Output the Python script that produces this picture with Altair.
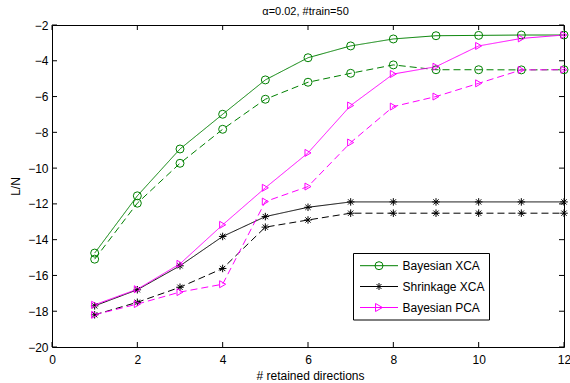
import altair as alt
import pandas as pd

x_vals = [1, 2, 3, 4, 5, 6, 7, 8, 9, 10, 11, 12]
series_names = ["Bayesian XCA", "Shrinkage XCA", "Bayesian PCA"]
bxca_solid = [-14.75, -11.55, -8.93, -6.99, -5.07, -3.83, -3.17, -2.78, -2.60, -2.58, -2.56, -2.56]
bxca_dashed = [-15.09, -11.96, -9.73, -7.83, -6.15, -5.20, -4.70, -4.23, -4.50, -4.50, -4.51, -4.50]
sxca_solid = [-17.70, -16.80, -15.46, -13.82, -12.71, -12.19, -11.89, -11.89, -11.89, -11.89, -11.89, -11.89]
sxca_dashed = [-18.20, -17.50, -16.66, -15.61, -13.30, -12.90, -12.52, -12.52, -12.52, -12.52, -12.52, -12.52]
bpca_solid = [-17.64, -16.77, -15.35, -13.17, -11.10, -9.15, -6.50, -4.74, -4.33, -3.17, -2.75, -2.56]
bpca_dashed = [-18.20, -17.60, -16.93, -16.49, -11.87, -11.03, -8.57, -6.56, -6.00, -5.26, -4.51, -4.50]
x_ticks = [0, 2, 4, 6, 8, 10, 12]
y_ticks = [-20, -18, -16, -14, -12, -10, -8, -6, -4, -2]
title_text = "\u03b1=0.02, #train=50"

rows = []
for name, solid, dashed in [
    ("Bayesian XCA", bxca_solid, bxca_dashed),
    ("Shrinkage XCA", sxca_solid, sxca_dashed),
    ("Bayesian PCA", bpca_solid, bpca_dashed),
]:
    for xv, yv in zip(x_vals, solid):
        rows.append({"series": name, "style": "solid", "x": xv, "y": yv, "key": name + " solid"})
    for xv, yv in zip(x_vals, dashed):
        rows.append({"series": name, "style": "dashed", "x": xv, "y": yv, "key": name + " dashed"})
df = pd.DataFrame(rows)

W, H = 512, 322
FONT = "Liberation Sans"
colors = ["#008000", "#000000", "#ff00ff"]
star = "M-1,0L1,0M0,-1L0,1M-0.7,-0.7L0.7,0.7M-0.7,0.7L0.7,-0.7"
shapes = ["circle", star, "triangle-right"]
sizes = [64, 49, 64]

xscale = alt.Scale(domain=[0, 12], nice=False)
yscale = alt.Scale(domain=[-20, -2], nice=False, zero=False)
color_enc = alt.Color("series:N", scale=alt.Scale(domain=series_names, range=colors), legend=None)

xaxis = alt.Axis(values=x_ticks, grid=False, ticks=False, tickSize=0, domain=False,
                 labelFont=FONT, labelFontSize=12, labelColor="black", labelPadding=7,
                 labelOverlap=False, labelFlush=False,
                 title="# retained directions", titleFont=FONT, titleFontSize=12,
                 titleFontWeight="normal", titleColor="black", titleX=258, titleY=32,
                 titleBaseline="alphabetic", titleAlign="center")
yaxis = alt.Axis(values=y_ticks, grid=False, ticks=False, tickSize=0, domain=False,
                 labelFont=FONT, labelFontSize=12, labelColor="black", labelPadding=4,
                 labelOverlap=False, labelFlush=False,
                 title="L/N", titleFont=FONT, titleFontSize=12, titleFontWeight="normal",
                 titleColor="black", titleAngle=270, titleX=-33, titleY=161,
                 titleBaseline="alphabetic", titleAlign="center")


def X(field):
    return alt.X(field, scale=xscale, axis=xaxis, title="# retained directions")


def Y(field):
    return alt.Y(field, scale=yscale, axis=yaxis, title="L/N")


base = alt.Chart(df)
lines = base.mark_line(strokeWidth=1).encode(
    x=X("x:Q"),
    y=Y("y:Q"),
    color=color_enc,
    strokeDash=alt.StrokeDash("style:N", scale=alt.Scale(domain=["solid", "dashed"], range=[[1, 0], [7, 4]]), legend=None),
    detail="key:N",
)
points = base.mark_point(filled=False, strokeWidth=1, opacity=1).encode(
    x=X("x:Q"),
    y=Y("y:Q"),
    color=color_enc,
    shape=alt.Shape("series:N", scale=alt.Scale(domain=series_names, range=shapes), legend=None),
    size=alt.Size("series:N", scale=alt.Scale(domain=series_names, range=sizes), legend=None),
)

xt = pd.DataFrame({"x": x_ticks})
yt = pd.DataFrame({"y": y_ticks})
tick_layers = [
    alt.Chart(xt).mark_rule(color="black", strokeWidth=1).encode(x=X("x:Q"), y=alt.value(H), y2=alt.value(H - 5)),
    alt.Chart(xt).mark_rule(color="black", strokeWidth=1).encode(x=X("x:Q"), y=alt.value(0), y2=alt.value(5)),
    alt.Chart(yt).mark_rule(color="black", strokeWidth=1).encode(y=Y("y:Q"), x=alt.value(0), x2=alt.value(5)),
    alt.Chart(yt).mark_rule(color="black", strokeWidth=1).encode(y=Y("y:Q"), x=alt.value(W - 5), x2=alt.value(W)),
]

one = pd.DataFrame({"a": [0]})
legend_layers = [
    alt.Chart(one).mark_rect(fill="white", stroke="black", strokeWidth=1).encode(
        x=alt.value(301.5), x2=alt.value(437.5), y=alt.value(228.5), y2=alt.value(295))
]
row_y = [240.7, 261.5, 282.5]
for i, name in enumerate(series_names):
    d = pd.DataFrame({"label": [name]})
    legend_layers.append(alt.Chart(d).mark_rule(color=colors[i], strokeWidth=1).encode(
        x=alt.value(308), x2=alt.value(346), y=alt.value(row_y[i])))
    legend_layers.append(alt.Chart(d).mark_point(shape=shapes[i], size=sizes[i], filled=False,
                                                 color=colors[i], strokeWidth=1, opacity=1).encode(
        x=alt.value(327), y=alt.value(row_y[i])))
    legend_layers.append(alt.Chart(d).mark_text(align="left", baseline="middle", font=FONT,
                                                fontSize=12, color="black").encode(
        x=alt.value(350.5), y=alt.value(row_y[i] + 0.5), text="label:N"))

title_layer = alt.Chart(pd.DataFrame({"t": [title_text]})).mark_text(
    align="center", baseline="alphabetic", font=FONT, fontSize=11, color="black").encode(
    x=alt.value(253.5), y=alt.value(-10), text="t:N")

chart = alt.layer(lines, points, *tick_layers, *legend_layers, title_layer).properties(
    width=W, height=H,
    autosize=alt.AutoSizeParams(type="none"),
    padding={"left": 52, "top": 25, "right": 6, "bottom": 36},
    background="white",
).configure_view(stroke="black", strokeWidth=1)

chart.save("out.html", embed_options={"renderer": "svg", "actions": False})
